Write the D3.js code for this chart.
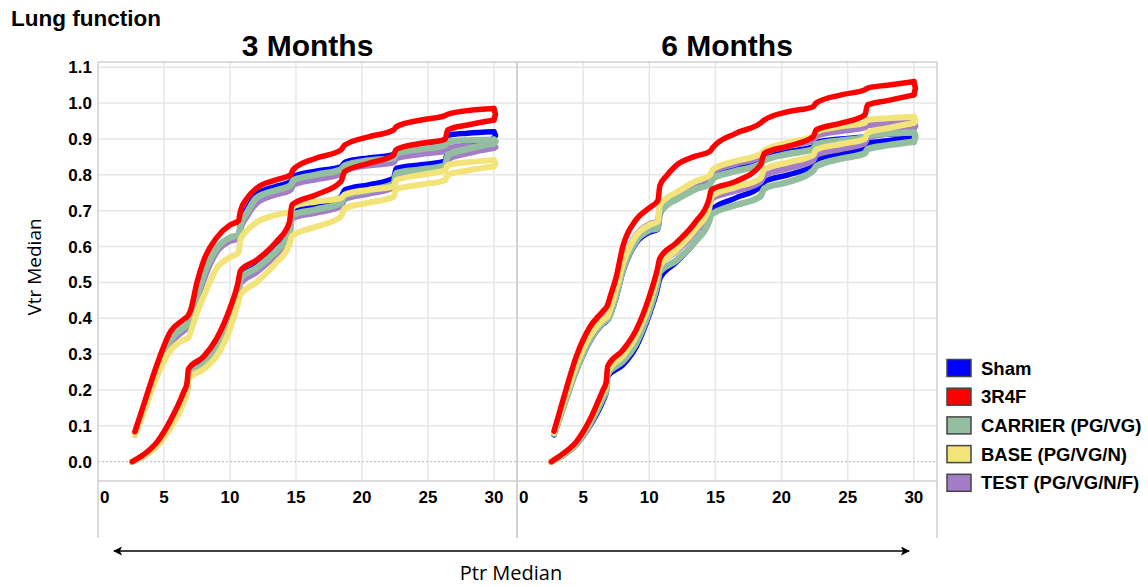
<!DOCTYPE html>
<html><head><meta charset="utf-8">
<script src="https://cdn.jsdelivr.net/npm/d3@7"></script>
<style>body{margin:0;background:#fff}svg{display:block}</style>
</head><body>
<svg id="c" width="1148" height="587"></svg>
<script>
// ---- data ----
const xInsp = [2.6, 3.5, 4.5, 5.5, 6.5, 6.75, 6.85, 8, 9, 10, 10.6, 10.8, 12, 13.5, 14.5, 14.7, 16.5, 18.4, 18.7, 20.5, 22.4, 22.6, 24.5, 26.3, 26.5, 28, 30];
const xExp = [2.8, 3.5, 4.5, 5.5, 6.5, 6.85, 7.0, 7.5, 8, 9, 10, 10.65, 10.8, 11.3, 12, 13.5, 14.6, 14.8, 16.5, 18.4, 18.7, 20.5, 22.4, 22.6, 24.5, 26.3, 26.5, 28, 30];
const seriesNames = ["Sham", "3R4F", "CARRIER (PG/VG)", "BASE (PG/VG/N)", "TEST (PG/VG/N/F)"];
const seriesColors = ["#0000ff", "#ff0000", "#93bfa0", "#f2e479", "#a37ec6"];
const panelTitles = ["3 Months", "6 Months"];
const xTicks = [0, 5, 10, 15, 20, 25, 30];
const yTicks = [0.0, 0.1, 0.2, 0.3, 0.4, 0.5, 0.6, 0.7, 0.8, 0.9, 1.0, 1.1];

// 3 months
const sham3In = [0, 0.019, 0.05, 0.105, 0.18, 0.205, 0.245, 0.278, 0.325, 0.405, 0.47, 0.515, 0.545, 0.595, 0.645, 0.695, 0.715, 0.738, 0.758, 0.772, 0.79, 0.818, 0.828, 0.838, 0.868, 0.885, 0.9];
const r4f3In = [0, 0.021, 0.056, 0.116, 0.195, 0.22, 0.258, 0.293, 0.344, 0.428, 0.497, 0.533, 0.562, 0.613, 0.667, 0.716, 0.744, 0.781, 0.809, 0.832, 0.855, 0.871, 0.888, 0.899, 0.925, 0.939, 0.953];
const car3In = [0, 0.018, 0.048, 0.102, 0.176, 0.2, 0.24, 0.272, 0.318, 0.398, 0.462, 0.512, 0.54, 0.588, 0.637, 0.688, 0.703, 0.722, 0.742, 0.757, 0.775, 0.805, 0.815, 0.826, 0.855, 0.872, 0.888];
const base3In = [0, 0.017, 0.045, 0.095, 0.165, 0.19, 0.232, 0.258, 0.295, 0.37, 0.44, 0.465, 0.5, 0.555, 0.605, 0.63, 0.655, 0.683, 0.707, 0.722, 0.739, 0.76, 0.773, 0.785, 0.80, 0.812, 0.823];
const test3In = [0, 0.017, 0.046, 0.099, 0.172, 0.195, 0.233, 0.265, 0.31, 0.39, 0.452, 0.498, 0.528, 0.578, 0.628, 0.678, 0.694, 0.712, 0.732, 0.747, 0.765, 0.795, 0.805, 0.815, 0.843, 0.86, 0.875];
const sham3Ex = [0.075, 0.148, 0.252, 0.335, 0.372, 0.383, 0.39, 0.452, 0.515, 0.592, 0.622, 0.63, 0.665, 0.705, 0.744, 0.768, 0.781, 0.795, 0.81, 0.822, 0.835, 0.847, 0.856, 0.868, 0.878, 0.89, 0.91, 0.916, 0.92];
const r4f3Ex = [0.084, 0.163, 0.274, 0.363, 0.397, 0.409, 0.42, 0.50, 0.56, 0.625, 0.66, 0.672, 0.70, 0.735, 0.762, 0.786, 0.80, 0.815, 0.846, 0.869, 0.883, 0.906, 0.925, 0.934, 0.953, 0.965, 0.969, 0.979, 0.985];
const car3Ex = [0.08, 0.15, 0.255, 0.34, 0.375, 0.385, 0.395, 0.46, 0.52, 0.595, 0.625, 0.632, 0.66, 0.695, 0.735, 0.757, 0.77, 0.785, 0.80, 0.815, 0.826, 0.84, 0.846, 0.86, 0.872, 0.883, 0.893, 0.896, 0.898];
const base3Ex = [0.075, 0.14, 0.24, 0.31, 0.34, 0.345, 0.36, 0.415, 0.46, 0.54, 0.57, 0.583, 0.62, 0.645, 0.667, 0.688, 0.698, 0.712, 0.725, 0.735, 0.745, 0.758, 0.768, 0.785, 0.80, 0.813, 0.827, 0.835, 0.841];
const test3Ex = [0.078, 0.145, 0.245, 0.33, 0.365, 0.376, 0.385, 0.445, 0.505, 0.585, 0.615, 0.622, 0.648, 0.685, 0.72, 0.745, 0.758, 0.772, 0.787, 0.802, 0.813, 0.826, 0.834, 0.846, 0.858, 0.867, 0.876, 0.878, 0.88];

// 6 months
const sham6In = [0, 0.018, 0.048, 0.1, 0.17, 0.195, 0.237, 0.27, 0.32, 0.41, 0.48, 0.511, 0.555, 0.615, 0.675, 0.702, 0.735, 0.767, 0.781, 0.8, 0.827, 0.841, 0.86, 0.874, 0.888, 0.895, 0.905];
const r4f6In = [0, 0.023, 0.056, 0.116, 0.2, 0.222, 0.265, 0.311, 0.367, 0.46, 0.535, 0.567, 0.609, 0.669, 0.73, 0.758, 0.781, 0.827, 0.86, 0.88, 0.906, 0.925, 0.944, 0.967, 0.995, 1.007, 1.023];
const car6In = [0, 0.019, 0.05, 0.105, 0.178, 0.2, 0.245, 0.28, 0.33, 0.42, 0.495, 0.53, 0.56, 0.615, 0.668, 0.69, 0.715, 0.74, 0.762, 0.78, 0.812, 0.823, 0.845, 0.86, 0.872, 0.882, 0.892];
const base6In = [0, 0.021, 0.054, 0.112, 0.19, 0.21, 0.25, 0.295, 0.35, 0.44, 0.515, 0.545, 0.588, 0.648, 0.705, 0.74, 0.765, 0.79, 0.815, 0.835, 0.855, 0.87, 0.886, 0.9, 0.918, 0.93, 0.945];
const test6In = [0, 0.021, 0.054, 0.112, 0.19, 0.212, 0.252, 0.297, 0.352, 0.442, 0.517, 0.549, 0.585, 0.643, 0.7, 0.733, 0.755, 0.78, 0.797, 0.818, 0.84, 0.855, 0.872, 0.888, 0.903, 0.915, 0.928];
const sham6Ex = [0.075, 0.15, 0.255, 0.335, 0.385, 0.395, 0.405, 0.46, 0.53, 0.61, 0.64, 0.648, 0.69, 0.715, 0.735, 0.768, 0.785, 0.798, 0.818, 0.837, 0.848, 0.865, 0.878, 0.89, 0.9, 0.906, 0.91, 0.913, 0.915];
const r4f6Ex = [0.085, 0.175, 0.295, 0.375, 0.42, 0.437, 0.455, 0.515, 0.60, 0.675, 0.708, 0.728, 0.77, 0.797, 0.825, 0.852, 0.866, 0.876, 0.915, 0.944, 0.953, 0.976, 0.99, 1.0, 1.023, 1.037, 1.042, 1.05, 1.06];
const car6Ex = [0.078, 0.152, 0.258, 0.338, 0.388, 0.398, 0.408, 0.465, 0.535, 0.615, 0.645, 0.651, 0.695, 0.715, 0.73, 0.76, 0.775, 0.79, 0.81, 0.83, 0.84, 0.858, 0.872, 0.884, 0.896, 0.905, 0.91, 0.915, 0.918];
const base6Ex = [0.08, 0.16, 0.27, 0.35, 0.395, 0.405, 0.42, 0.48, 0.55, 0.63, 0.66, 0.67, 0.715, 0.735, 0.75, 0.782, 0.8, 0.815, 0.838, 0.858, 0.868, 0.89, 0.908, 0.92, 0.935, 0.945, 0.953, 0.958, 0.962];
const test6Ex = [0.082, 0.162, 0.272, 0.352, 0.398, 0.41, 0.422, 0.482, 0.552, 0.632, 0.662, 0.672, 0.712, 0.73, 0.745, 0.776, 0.795, 0.808, 0.83, 0.85, 0.86, 0.88, 0.897, 0.908, 0.922, 0.932, 0.938, 0.942, 0.945];

// series index order: Sham, 3R4F, CARRIER, BASE, TEST
const panelIn = [[sham3In, r4f3In, car3In, base3In, test3In], [sham6In, r4f6In, car6In, base6In, test6In]];
const panelEx = [[sham3Ex, r4f3Ex, car3Ex, base3Ex, test3Ex], [sham6Ex, r4f6Ex, car6Ex, base6Ex, test6Ex]];

// ---- drawing ----
const svg = d3.select("#c");
const plotTop = 62, plotBottom = 481;
const panelX = [[98, 517], [517, 937]];
const y = d3.scaleLinear().domain([-0.0538, 1.1146]).range([plotBottom, plotTop]);
const drawOrder = [0, 4, 2, 3, 1];
const widths = [5.5, 5.5, 6.5, 6, 6];
const FONT = "'Liberation Sans', Arial, sans-serif";

svg.append("text").attr("x", 11).attr("y", 26).attr("font-family", FONT)
  .attr("font-weight", "bold").attr("font-size", 22.5).text("Lung function");

panelX.forEach((px, pi) => {
  const x = d3.scaleLinear().domain([0, 31.75]).range(px);
  const g = svg.append("g");
  g.selectAll(".hg").data(yTicks.filter(t => t > 0)).join("line")
    .attr("x1", px[0]).attr("x2", px[1]).attr("y1", d => y(d)).attr("y2", d => y(d))
    .attr("stroke", "#e6e6e6").attr("stroke-width", 1.5);
  g.selectAll(".vg").data(xTicks.filter(t => t > 0)).join("line")
    .attr("x1", d => x(d)).attr("x2", d => x(d)).attr("y1", plotTop).attr("y2", plotBottom)
    .attr("stroke", "#e6e6e6").attr("stroke-width", 1.5);
  g.append("line").attr("x1", px[0]).attr("x2", px[1]).attr("y1", y(0)).attr("y2", y(0))
    .attr("stroke", "#c4c4c4").attr("stroke-width", 1.2).attr("stroke-dasharray", "2,2");
  g.append("line").attr("x1", px[0]).attr("x2", px[1]).attr("y1", plotTop).attr("y2", plotTop).attr("stroke", "#cfcfcf").attr("stroke-width", 1.5);
  g.append("line").attr("x1", px[0]).attr("x2", px[1]).attr("y1", plotBottom).attr("y2", plotBottom).attr("stroke", "#cfcfcf").attr("stroke-width", 1.5);
  g.append("line").attr("x1", px[0]).attr("x2", px[0]).attr("y1", plotTop).attr("y2", 538).attr("stroke", "#cfcfcf").attr("stroke-width", 1.5);
  g.append("line").attr("x1", px[1]).attr("x2", px[1]).attr("y1", plotTop).attr("y2", 538).attr("stroke", "#cfcfcf").attr("stroke-width", 1.5);
  svg.append("text").attr("x", (px[0] + px[1]) / 2).attr("y", 56).attr("text-anchor", "middle")
    .attr("font-family", FONT).attr("font-weight", "bold").attr("font-size", 30).text(panelTitles[pi]);
  g.selectAll(".xl").data(xTicks).join("text")
    .attr("x", d => d === 0 ? x(d) + 2 : x(d)).attr("y", 503)
    .attr("text-anchor", d => d === 0 ? "start" : "middle")
    .attr("font-family", FONT).attr("font-weight", "bold").attr("font-size", 17)
    .text(d => d);
  const line = d3.line().x(d => x(d[0])).y(d => y(d[1])).curve(d3.curveMonotoneX);
  const clipId = "clip" + pi;
  svg.append("clipPath").attr("id", clipId).append("rect")
    .attr("x", px[0]).attr("y", plotTop).attr("width", px[1] - px[0]).attr("height", plotBottom - plotTop);
  const cg = svg.append("g").attr("clip-path", `url(#${clipId})`);
  drawOrder.forEach(si => {
    const ins = xInsp.map((xv, i) => [xv, panelIn[pi][si][i]]);
    const exs = xExp.map((xv, i) => [xv, panelEx[pi][si][i]]);
    const s = cg.append("g").attr("fill", "none").attr("stroke", seriesColors[si])
      .attr("stroke-width", widths[si]).attr("stroke-linecap", "round").attr("stroke-linejoin", "round");
    s.append("path").attr("d", line(ins));
    s.append("path").attr("d", line(exs));
    const a = ins[ins.length - 1], b = exs[exs.length - 1];
    s.append("path").attr("d", d3.line().x(d => x(d[0])).y(d => y(d[1])).curve(d3.curveLinear)([a, [a[0] + 0.12, (a[1] + b[1]) / 2], b]));
  });
});

svg.selectAll(".yl").data(yTicks).join("text")
  .attr("x", 92).attr("y", d => y(d) + 6).attr("text-anchor", "end")
  .attr("font-family", FONT).attr("font-weight", "bold").attr("font-size", 17)
  .text(d => d.toFixed(1));

svg.append("text").attr("transform", "translate(41,267) rotate(-90)").attr("text-anchor", "middle")
  .attr("font-family", "'Open Sans', sans-serif").attr("font-size", 19).text("Vtr Median");
svg.append("text").attr("x", 511).attr("y", 580).attr("text-anchor", "middle")
  .attr("font-family", "'Open Sans', sans-serif").attr("font-size", 20).text("Ptr Median");

const defs = svg.append("defs");
defs.append("marker").attr("id", "ah").attr("viewBox", "0 0 10 10").attr("refX", 9).attr("refY", 5)
  .attr("markerWidth", 9).attr("markerHeight", 9).attr("markerUnits", "userSpaceOnUse").attr("orient", "auto-start-reverse")
  .append("path").attr("d", "M0,0 L10,5 L0,10 L2.5,5 Z").attr("fill", "#000");
svg.append("line").attr("x1", 114).attr("x2", 909).attr("y1", 551).attr("y2", 551)
  .attr("stroke", "#000").attr("stroke-width", 1.5)
  .attr("marker-start", "url(#ah)").attr("marker-end", "url(#ah)");

const legendOrder = [0, 1, 2, 3, 4];
const lg = svg.append("g");
legendOrder.forEach((si, i) => {
  const cy = 368 + i * 28.7;
  lg.append("rect").attr("x", 947).attr("y", cy - 8.5).attr("width", 24).attr("height", 17)
    .attr("fill", seriesColors[si]).attr("stroke", "#444").attr("stroke-width", 1.5);
  lg.append("text").attr("x", 981).attr("y", cy + 6.5).attr("font-family", FONT)
    .attr("font-weight", "bold").attr("font-size", 18.5).text(seriesNames[si]);
});
</script>
</body></html>
